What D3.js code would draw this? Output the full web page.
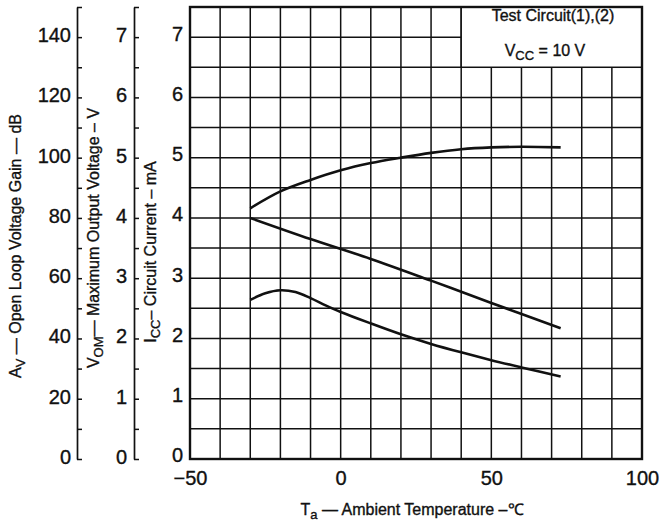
<!DOCTYPE html>
<html lang="en">
<head>
<meta charset="UTF-8">
<title>Temperature characteristics</title>
<script src="https://cdn.jsdelivr.net/npm/d3@7/dist/d3.min.js"></script>
<style>
  body { margin: 0; background: #fff; }
  svg { display: block; font-family: "Liberation Sans", Arial, sans-serif; }
  text { fill: #111; stroke: #111; stroke-width: 0.35; }
  .grid line { stroke: #111; stroke-width: 1.5; }
  .curve { fill: none; stroke: #111; stroke-width: 2.6; }
</style>
</head>
<body>
<script>
// temperature axis
const tempTicks = [-50, 0, 50, 100]
const tempGrid = d3.range(-50, 101, 10)

// left axes
const ampTicks = d3.range(0, 151, 10)     // Av, dB
const voltTicks = d3.range(0, 7.51, 0.5)  // VOM, V and ICC, mA
const rowGrid = d3.range(0, 7.51, 0.5)

// ICC - circuit current (mA)
const iccTemp = [-30, -20, -10, 0, 10, 20, 30, 40, 50, 60, 73]
const iccVal  = [4.16, 4.44, 4.63, 4.79, 4.91, 5.0, 5.08, 5.14, 5.17, 5.18, 5.17]

// straight falling curve
const midTemp = [-30, -10, 10, 30, 50, 73]
const midVal  = [4.0, 3.65, 3.32, 2.96, 2.59, 2.17]

// curve with the hump near -20 C
const lowTemp = [-30, -25, -20, -15, -10, -5, 0, 10, 20, 30, 40, 50, 60, 73]
const lowVal  = [2.64, 2.75, 2.80, 2.77, 2.67, 2.55, 2.44, 2.25, 2.07, 1.91, 1.77, 1.64, 1.52, 1.37]

const W = 660, H = 532
const svg = d3.select("body").append("svg").attr("width", W).attr("height", H)

const x = d3.scaleLinear().domain([-50, 100]).range([190, 642])
const y = d3.scaleLinear().domain([0, 7.5]).range([459, 7])
const yAmp = d3.scaleLinear().domain([0, 150]).range([459, 7])

// grid
const grid = svg.append("g").attr("class", "grid")
grid.selectAll(".v").data(tempGrid).enter().append("line")
    .attr("x1", d => x(d)).attr("x2", d => x(d))
    .attr("y1", y(0)).attr("y2", y(7.5))
grid.selectAll(".h").data(rowGrid).enter().append("line")
    .attr("x1", x(-50)).attr("x2", x(100))
    .attr("y1", d => y(d)).attr("y2", d => y(d))

// curves
const line = d3.line().curve(d3.curveCatmullRom.alpha(0.5))
const curves = [[iccTemp, iccVal], [midTemp, midVal], [lowTemp, lowVal]]
curves.forEach(([t, v]) => {
    svg.append("path").attr("class", "curve")
        .attr("d", line(t.map((d, i) => [x(d), y(v[i])])))
})

// legend box in the top right corner
svg.append("rect")
    .attr("x", x(40)).attr("y", y(7.5))
    .attr("width", x(100) - x(40)).attr("height", y(6.5) - y(7.5))
    .attr("fill", "#fff").attr("stroke", "#111").attr("stroke-width", 1.5)
svg.append("text").attr("x", 553).attr("y", 21)
    .attr("text-anchor", "middle").attr("font-size", 16)
    .text("Test Circuit(1),(2)")
const vcc = svg.append("text").attr("x", 545).attr("y", 56)
    .attr("text-anchor", "middle").attr("font-size", 16)
vcc.append("tspan").text("V")
vcc.append("tspan").attr("font-size", 13).attr("dy", 4).text("CC")
vcc.append("tspan").attr("dy", -4).text(" = 10  V")

// frame
svg.append("rect")
    .attr("x", x(-50)).attr("y", y(7.5))
    .attr("width", x(100) - x(-50)).attr("height", y(0) - y(7.5))
    .attr("fill", "none").attr("stroke", "#111").attr("stroke-width", 2.4)

// bottom tick labels
const xAxis = svg.append("g").attr("transform", `translate(0,${y(0) + 1})`)
    .call(d3.axisBottom(x).tickValues(tempTicks).tickSize(0).tickPadding(10.5))
xAxis.select(".domain").remove()
xAxis.selectAll("text").attr("font-size", 20)

// ICC labels on the frame
const iccAxis = svg.append("g").attr("transform", `translate(${x(-50)},-3.5)`)
    .call(d3.axisLeft(y).tickValues(d3.range(0, 8)).tickSize(0).tickPadding(7))
iccAxis.select(".domain").remove()

// VOM axis
const vomAxis = svg.append("g").attr("transform", "translate(134,0)")
    .call(d3.axisLeft(y).tickValues(voltTicks).tickSizeInner(-5).tickSizeOuter(0).tickPadding(7)
        .tickFormat(d => Number.isInteger(d) && d <= 7 ? d : ""))

// Av axis
const ampAxis = svg.append("g").attr("transform", "translate(77,0)")
    .call(d3.axisLeft(yAmp).tickValues(ampTicks).tickSizeInner(-5).tickSizeOuter(0).tickPadding(6)
        .tickFormat(d => d % 20 === 0 && d <= 140 ? d : ""))

;[vomAxis, ampAxis].forEach(a => {
    a.selectAll("text").attr("y", -2)
    a.selectAll("line").attr("stroke", "#111").attr("stroke-width", 1.5)
    a.select(".domain").attr("stroke", "#111").attr("stroke-width", 1.7)
})
;[iccAxis, vomAxis, ampAxis].forEach(a => a.selectAll("text").attr("font-size", 20))
svg.selectAll(".tick text").attr("fill", "#111")

// axis titles
function vTitle(cx, cy, main, sub, rest) {
    const t = svg.append("text")
        .attr("transform", `translate(${cx},${cy}) rotate(-90)`)
        .attr("text-anchor", "middle").attr("font-size", 16)
    t.append("tspan").text(main)
    t.append("tspan").attr("font-size", 13).attr("dy", 4).text(sub)
    t.append("tspan").attr("dy", -4).text(rest)
}
vTitle(21, 246, "A", "V", "  \u2014 Open Loop Voltage Gain  \u2014 dB")
vTitle(99, 238, "V", "OM", "\u2014  Maximum Output Voltage \u2013 V")
vTitle(156, 252, "I", "CC", "\u2013 Circuit Current \u2013 mA")

const xt = svg.append("text").attr("x", 412).attr("y", 515)
    .attr("text-anchor", "middle").attr("font-size", 16)
xt.append("tspan").text("T")
xt.append("tspan").attr("font-size", 13).attr("dy", 4).text("a")
xt.append("tspan").attr("dy", -4).text(" \u2014 Ambient Temperature \u2013\u2103")
</script>
</body>
</html>
